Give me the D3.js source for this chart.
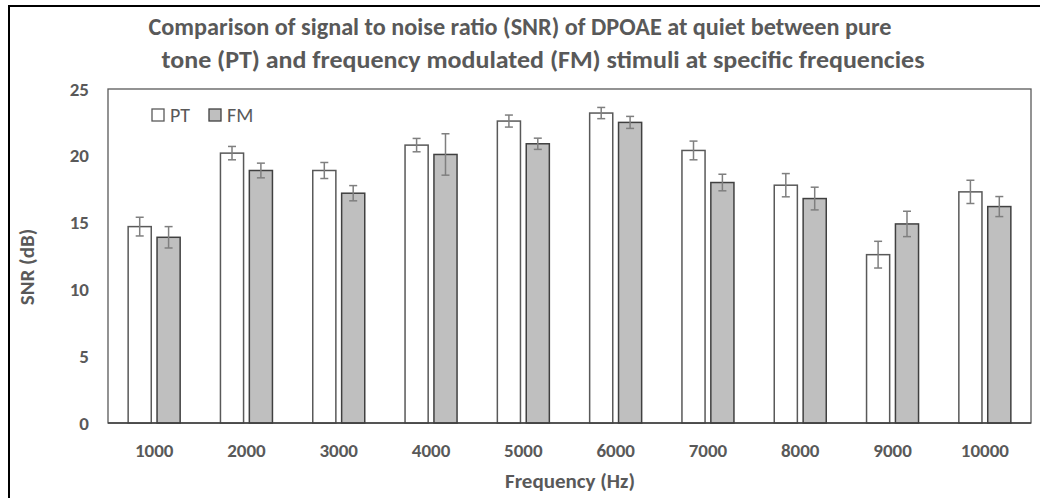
<!DOCTYPE html>
<html>
<head>
<meta charset="utf-8">
<script src="https://cdn.jsdelivr.net/npm/d3@7"></script>
<style>
  body { margin: 0; background: #fff; }
  text { font-family: Carlito, "Open Sans", "Liberation Sans", sans-serif; }
</style>
</head>
<body>
<div id="chart"></div>
<script>
// data
const frequencies = ["1000", "2000", "3000", "4000", "5000", "6000", "7000", "8000", "9000", "10000"];
const seriesNames = ["PT", "FM"];
const ptValues = [14.7, 20.2, 18.9, 20.8, 22.6, 23.2, 20.4, 17.8, 12.6, 17.3];
const fmValues = [13.9, 18.9, 17.2, 20.1, 20.9, 22.5, 18.0, 16.8, 14.9, 16.2];
const ptErrors = [0.7, 0.5, 0.6, 0.5, 0.45, 0.42, 0.7, 0.87, 1.0, 0.87];
const fmErrors = [0.8, 0.55, 0.57, 1.55, 0.42, 0.45, 0.62, 0.85, 0.95, 0.75];
const yTicks = [0, 5, 10, 15, 20, 25];
const titleLines = [
  "Comparison of signal to noise ratio (SNR) of DPOAE at quiet between pure",
  "tone (PT) and frequency modulated (FM) stimuli at specific frequencies"
];

const width = 1040, height = 498;
const plot = { left: 108, top: 89, right: 1031, bottom: 423 };
const textColor = "#595959";

const svg = d3.select("#chart").append("svg")
    .attr("width", width)
    .attr("height", height);

svg.append("rect").attr("width", width).attr("height", height).attr("fill", "#fff");

// outer frame (runs off the right and bottom edges)
svg.append("rect")
    .attr("x", 9).attr("y", 6)
    .attr("width", width + 20).attr("height", height + 20)
    .attr("fill", "none").attr("stroke", "#000").attr("stroke-width", 2);

// title, each line stretched to the width it has in the reference
const titleBox = [{ x: 520, w: 743 }, { x: 543, w: 763 }];
svg.append("g").selectAll("text")
    .data(titleLines)
    .join("text")
    .attr("x", (d, i) => titleBox[i].x)
    .attr("y", (d, i) => 27 + i * 33)
    .attr("dy", "0.35em")
    .attr("text-anchor", "middle")
    .attr("textLength", (d, i) => titleBox[i].w)
    .attr("lengthAdjust", "spacingAndGlyphs")
    .attr("font-size", "24px")
    .attr("font-weight", "bold")
    .attr("fill", textColor)
    .text(d => d);

const x0 = d3.scaleBand().domain(frequencies).range([plot.left, plot.right]);
const x1 = d3.scaleBand().domain(seriesNames).range([-26, 26]).paddingInner(0.2);
const y = d3.scaleLinear().domain([0, 25]).range([plot.bottom, plot.top]);

// plot frame
svg.append("rect")
    .attr("x", plot.left).attr("y", plot.top)
    .attr("width", plot.right - plot.left).attr("height", plot.bottom - plot.top)
    .attr("fill", "none").attr("stroke", "#595959").attr("stroke-width", 1.3);

const rows = frequencies.map((f, i) => ({
  f,
  values: [
    { s: "PT", v: ptValues[i], e: ptErrors[i] },
    { s: "FM", v: fmValues[i], e: fmErrors[i] }
  ]
}));

const fills = { PT: "#ffffff", FM: "#bfbfbf" };
const strokes = { PT: "#595959", FM: "#404040" };

const groups = svg.append("g").selectAll("g")
    .data(rows)
    .join("g")
    .attr("transform", d => `translate(${x0(d.f) + x0.bandwidth() / 2},0)`);

groups.selectAll("rect")
    .data(d => d.values)
    .join("rect")
    .attr("x", d => x1(d.s))
    .attr("width", x1.bandwidth())
    .attr("y", d => y(d.v))
    .attr("height", d => y(0) - y(d.v))
    .attr("fill", d => fills[d.s])
    .attr("stroke", d => strokes[d.s])
    .attr("stroke-width", 1.5);

// error bars
const err = groups.selectAll("g.err")
    .data(d => d.values)
    .join("g")
    .attr("class", "err")
    .attr("stroke", "#7f7f7f")
    .attr("stroke-width", 1.5);
err.append("line")
    .attr("x1", d => x1(d.s) + x1.bandwidth() / 2)
    .attr("x2", d => x1(d.s) + x1.bandwidth() / 2)
    .attr("y1", d => y(d.v + d.e))
    .attr("y2", d => y(d.v - d.e));
[1, -1].forEach(sign => {
  err.append("line")
      .attr("x1", d => x1(d.s) + x1.bandwidth() / 2 - 4)
      .attr("x2", d => x1(d.s) + x1.bandwidth() / 2 + 4)
      .attr("y1", d => y(d.v + sign * d.e))
      .attr("y2", d => y(d.v + sign * d.e));
});

// bottom axis line
svg.append("line")
    .attr("x1", plot.left).attr("x2", plot.right)
    .attr("y1", plot.bottom).attr("y2", plot.bottom)
    .attr("stroke", "#404040").attr("stroke-width", 1.5);

// y tick labels
svg.append("g").selectAll("text")
    .data(yTicks)
    .join("text")
    .attr("x", 89)
    .attr("y", d => y(d))
    .attr("dy", "0.35em")
    .attr("text-anchor", "end")
    .attr("font-size", "19px")
    .attr("font-weight", "bold")
    .attr("fill", textColor)
    .text(d => d);

// x tick labels
svg.append("g").selectAll("text")
    .data(frequencies)
    .join("text")
    .attr("x", d => x0(d) + x0.bandwidth() / 2)
    .attr("y", 450)
    .attr("dy", "0.35em")
    .attr("text-anchor", "middle")
    .attr("font-size", "19px")
    .attr("font-weight", "bold")
    .attr("fill", textColor)
    .text(d => d);

// axis titles
svg.append("text")
    .attr("x", 570).attr("y", 481)
    .attr("dy", "0.35em")
    .attr("text-anchor", "middle")
    .attr("font-size", "21px")
    .attr("font-weight", "bold")
    .attr("fill", textColor)
    .text("Frequency (Hz)");

svg.append("text")
    .attr("transform", "translate(27,267) rotate(-90)")
    .attr("dy", "0.35em")
    .attr("text-anchor", "middle")
    .attr("font-size", "21px")
    .attr("font-weight", "bold")
    .attr("fill", textColor)
    .text("SNR (dB)");

// legend
const legend = svg.append("g").selectAll("g")
    .data(seriesNames)
    .join("g")
    .attr("transform", (d, i) => `translate(${152 + i * 57},109)`);
legend.append("rect")
    .attr("width", 12).attr("height", 12)
    .attr("fill", d => fills[d])
    .attr("stroke", d => strokes[d])
    .attr("stroke-width", 1.3);
legend.append("text")
    .attr("x", 18).attr("y", 6)
    .attr("dy", "0.35em")
    .attr("font-size", "20px")
    .attr("fill", textColor)
    .text(d => d);
</script>
</body>
</html>
